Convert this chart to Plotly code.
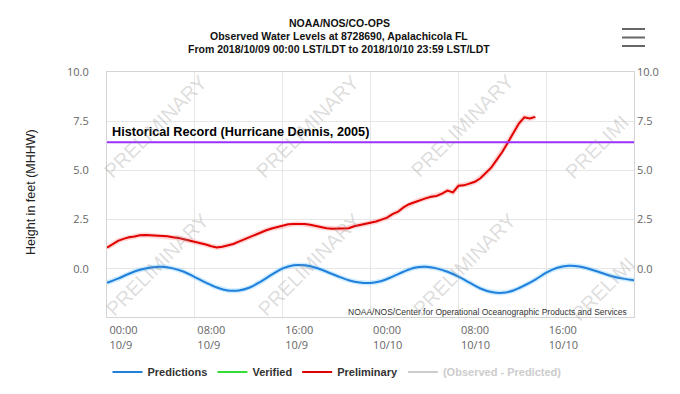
import plotly.graph_objects as go
import pandas as pd

# ---------------- data ----------------
start = pd.Timestamp("2018-10-09 00:00")
end = pd.Timestamp("2018-10-10 23:59")

# hourly tide predictions (ft, MHHW), hours 0..48 from start
pred_values = [-0.71, -0.50, -0.25, -0.05, 0.07, 0.10, 0.02, -0.15, -0.42, -0.70,
               -0.95, -1.10, -1.10, -0.95, -0.65, -0.30, 0.02, 0.18, 0.18, 0.05,
               -0.15, -0.38, -0.58, -0.70, -0.72, -0.62, -0.40, -0.15, 0.05, 0.10,
               0.02, -0.15, -0.40, -0.70, -1.00, -1.18, -1.22, -1.10, -0.85, -0.55,
               -0.20, 0.05, 0.15, 0.12, -0.02, -0.20, -0.38, -0.50, -0.58]
pred_step_h = 1.0

# preliminary observed water level (ft, MHHW), every 30 min from start
prelim_values = [1.07, 1.25, 1.42, 1.52, 1.60, 1.64, 1.70, 1.72, 1.70, 1.71,
                 1.67, 1.65, 1.60, 1.57, 1.50, 1.44, 1.38, 1.30, 1.23, 1.15,
                 1.08, 1.12, 1.18, 1.26, 1.38, 1.50, 1.63, 1.76, 1.87, 1.96,
                 2.05, 2.12, 2.20, 2.26, 2.28, 2.29, 2.27, 2.24, 2.17, 2.10,
                 2.06, 2.03, 2.04, 2.02, 2.06, 2.16, 2.22, 2.27, 2.36, 2.40,
                 2.50, 2.60, 2.78, 2.90, 3.12, 3.28, 3.38, 3.50, 3.58, 3.66,
                 3.70, 3.82, 3.97, 3.88, 4.22, 4.24, 4.32, 4.42, 4.60, 4.85,
                 5.15, 5.55, 5.95, 6.42, 6.92, 7.38, 7.70, 7.64, 7.72]
prelim_step_h = 0.5

historical_record = 6.43
historical_label = "Historical Record (Hurricane Dennis, 2005)"

x_tick_hours = [0, 8, 16, 24, 32, 40]
x_tick_labels = ["00:00<br>10/9", "08:00<br>10/9", "16:00<br>10/9",
                 "00:00<br>10/10", "08:00<br>10/10", "16:00<br>10/10"]
y_tick_vals = [0, 2.5, 5, 7.5, 10]
y_tick_labels = ["0.0", "2.5", "5.0", "7.5", "10.0"]
y_range = [-2.45, 10]

title_lines = ["NOAA/NOS/CO-OPS",
               "Observed Water Levels at 8728690, Apalachicola FL",
               "From 2018/10/09 00:00 LST/LDT to 2018/10/10 23:59 LST/LDT"]
credit_text = "NOAA/NOS/Center for Operational Oceanographic Products and Services"
watermark = "PRELIMINARY"

# ---------------- figure ----------------
pred_x = [start + pd.Timedelta(hours=pred_step_h * i) for i in range(len(pred_values))]
prelim_x = [start + pd.Timedelta(hours=prelim_step_h * i) for i in range(len(prelim_values))]
tick_x = [start + pd.Timedelta(hours=h) for h in x_tick_hours]

BLUE = "#1f80dc"
RED = "#e00000"
GREEN = "#33dd33"
PURPLE = "#9b30ff"
GRAYTXT = "#666666"

# plot-area pixel geometry (for placing decorations in paper coords)
L, R, T, B = 107, 634, 72, 317
PW, PH = R - L, B - T


def px(x):
    return (x - L) / PW


def py(y):
    return (B - y) / PH


fig = go.Figure()

# soft halos (series shadow)
fig.add_trace(go.Scatter(x=pred_x, y=pred_values, mode="lines", line=dict(color="rgba(120,200,255,0.35)", width=5, shape="spline"),
                         showlegend=False, hoverinfo="skip"))
fig.add_trace(go.Scatter(x=prelim_x, y=prelim_values, mode="lines", line=dict(color="rgba(255,120,120,0.30)", width=5),
                         showlegend=False, hoverinfo="skip"))

fig.add_trace(go.Scatter(x=pred_x, y=pred_values, mode="lines", name="Predictions",
                         line=dict(color=BLUE, width=2, shape="spline")))
fig.add_trace(go.Scatter(x=[None], y=[None], mode="lines", name="Verified",
                         line=dict(color=GREEN, width=2)))
fig.add_trace(go.Scatter(x=prelim_x, y=prelim_values, mode="lines", name="Preliminary",
                         line=dict(color=RED, width=2)))
fig.add_trace(go.Scatter(x=[None], y=[None], mode="lines",
                         name="<span style='color:#cccccc'>(Observed - Predicted)</span>",
                         line=dict(color="#cccccc", width=2)))
# invisible trace so the right axis renders
fig.add_trace(go.Scatter(x=[start], y=[None], yaxis="y2", showlegend=False, hoverinfo="skip"))

# historical record line
fig.add_shape(type="line", xref="paper", x0=0, x1=1, yref="y", y0=historical_record, y1=historical_record,
              line=dict(color=PURPLE, width=2), layer="above")

annotations = []
annotations.append(dict(text="<b>" + historical_label + "</b>", xref="paper", x=px(110), xanchor="left",
                        yref="y", y=historical_record, yanchor="bottom", yshift=1, showarrow=False,
                        font=dict(family="Liberation Sans, Arial", size=12.7, color="#000000")))

# title lines
for line, yy in zip(title_lines, [23, 36, 49]):
    annotations.append(dict(text="<b>" + line + "</b>", xref="paper", x=px(339), xanchor="center",
                            yref="paper", y=py(yy), yanchor="middle", showarrow=False,
                            font=dict(family="Liberation Sans, Arial", size=10.5, color="#111111")))

# y-axis title
annotations.append(dict(text="Height in feet (MHHW)", xref="paper", x=px(31), xanchor="center",
                        yref="paper", y=py(192), yanchor="middle", textangle=-90, showarrow=False,
                        font=dict(family="Liberation Sans, Arial", size=12.5, color="#222222")))

# credits
annotations.append(dict(text=credit_text, xref="paper", x=px(629), xanchor="right",
                        yref="paper", y=py(312), yanchor="middle", showarrow=False,
                        font=dict(family="Liberation Sans, Arial", size=8.5, color="#333333")))

# watermarks
wm_font = dict(family="Liberation Sans, Arial", size=20, color="rgba(140,140,140,0.30)")
wm_items = [(watermark, 155, 127), (watermark, 307, 127), (watermark, 462, 126), (watermark[:7], 597, 147),
            (watermark, 157, 265), (watermark, 309, 265), (watermark, 464, 265), (watermark[:7], 603, 289)]
for txt, wx, wy in wm_items:
    annotations.append(dict(text=txt, xref="paper", x=px(wx), xanchor="center",
                            yref="paper", y=py(wy), yanchor="middle", textangle=-45,
                            showarrow=False, font=wm_font))

# hamburger menu icon
for yy in [29, 37.5, 46]:
    fig.add_shape(type="line", xref="paper", yref="paper",
                  x0=px(622), x1=px(645), y0=py(yy), y1=py(yy),
                  line=dict(color="#666666", width=2))

tickfont = dict(family="Open Sans, DejaVu Sans", size=11, color=GRAYTXT)

fig.update_layout(
    width=680, height=394, autosize=False,
    margin=dict(l=L, r=680 - R, t=T, b=394 - B, autoexpand=False),
    paper_bgcolor="white", plot_bgcolor="white",
    showlegend=True,
    legend=dict(orientation="h", xref="paper", yref="paper", x=px(337), xanchor="center",
                y=py(372), yanchor="middle", itemwidth=30,
                font=dict(family="Liberation Sans, Arial", size=11, color="#333333", weight="bold")),
    annotations=annotations,
    xaxis=dict(type="date", range=[start, end], tickvals=tick_x, ticktext=x_tick_labels,
               ticklabelposition="outside right", ticklabelshift=2, ticklabelstandoff=3,
               showgrid=True, gridcolor="#e6e6e6", gridwidth=1,
               showline=True, linecolor="#d4d4d4", linewidth=1, mirror=True,
               ticks="", tickfont=tickfont, zeroline=False, automargin=False),
    yaxis=dict(range=y_range, tickvals=y_tick_vals, ticktext=y_tick_labels,
               showgrid=True, gridcolor="#e6e6e6", gridwidth=1, zeroline=False,
               showline=True, linecolor="#d4d4d4", linewidth=1, mirror=True,
               ticks="", ticklabelstandoff=15, tickfont=tickfont, automargin=False),
    yaxis2=dict(range=y_range, tickvals=y_tick_vals, ticktext=y_tick_labels, overlaying="y", side="right",
                showgrid=False, zeroline=False, showline=False, ticks="", ticklabelstandoff=2,
                tickfont=tickfont, automargin=False),
)

fig.write_html("out.html", config={"displayModeBar": False},
               post_script="document.body.style.margin='0';")
